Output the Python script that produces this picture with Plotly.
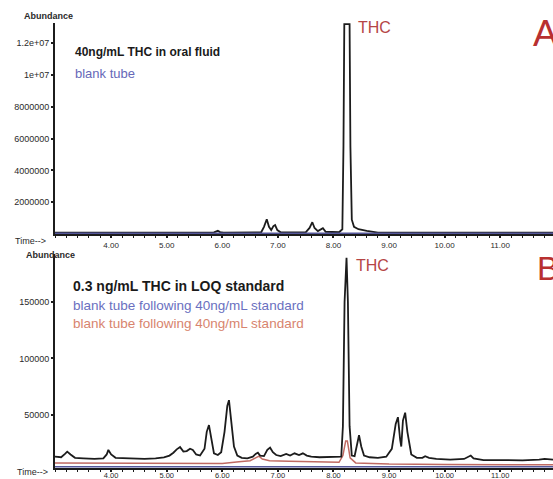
import plotly.graph_objects as go

# ---------------- data ----------------
# Panel A: 40 ng/mL THC in oral fluid (black) and blank tube (blue)
a_sample_t = [2.99, 4.50, 5.85, 5.92, 5.96, 6.02, 6.70, 6.75, 6.80, 6.84, 6.88, 6.92, 6.95, 6.99, 7.05,
              7.50, 7.57, 7.62, 7.66, 7.72, 7.77, 7.81, 7.86, 8.10, 8.16, 8.18, 8.195, 8.29, 8.305,
              8.33, 8.37, 8.45, 8.60, 8.80, 11.95]
a_sample_y = [90000, 90000, 100000, 200000, 120000, 90000, 110000, 450000, 930000, 450000, 250000, 500000,
              560000, 250000, 110000, 100000, 380000, 740000, 380000, 180000, 300000, 370000, 140000,
              110000, 300000, 5500000, 13200000, 13200000, 5500000, 900000, 450000, 300000, 200000, 90000, 90000]
a_blank_t = [2.99, 11.95]
a_blank_y = [30000, 30000]

# Panel B: 0.3 ng/mL THC LOQ standard (black), blank tubes (blue, red)
b_loq_t = [2.99, 3.10, 3.17, 3.21, 3.27, 3.35, 3.50, 3.70, 3.86, 3.92, 3.95, 4.00, 4.08, 4.30, 4.60, 4.80,
           4.95, 5.05, 5.12, 5.18, 5.24, 5.30, 5.36, 5.42, 5.47, 5.53, 5.60, 5.68, 5.72, 5.76, 5.80, 5.85,
           5.92, 5.98, 6.04, 6.09, 6.12, 6.16, 6.21, 6.27, 6.35, 6.45, 6.55, 6.60, 6.64, 6.68, 6.75, 6.81,
           6.86, 6.91, 6.97, 7.05, 7.15, 7.22, 7.30, 7.38, 7.45, 7.52, 7.60, 7.75, 7.95, 8.14, 8.17, 8.20,
           8.235, 8.26, 8.29, 8.33, 8.38, 8.43, 8.46, 8.50, 8.55, 8.65, 8.80, 8.95, 9.05, 9.12, 9.16, 9.20,
           9.22, 9.25, 9.29, 9.33, 9.40, 9.50, 9.60, 9.65, 9.72, 9.85, 10.10, 10.35, 10.43, 10.47, 10.52,
           10.70, 11.00, 11.40, 11.70, 11.80, 11.95]
b_loq_y = [13000, 12500, 15500, 17500, 15000, 12000, 11500, 11000, 11500, 15000, 19000, 15000, 12000,
           11500, 11000, 11500, 12500, 14000, 16500, 19500, 21500, 17500, 18000, 20000, 19000, 15000,
           14000, 20000, 35000, 41000, 30000, 16000, 14500, 17000, 35000, 58000, 63000, 45000, 22000,
           14000, 12000, 11500, 13000, 15500, 16500, 14000, 13500, 19000, 21000, 17000, 14500, 13500,
           15500, 14000, 16000, 14500, 16000, 14000, 13000, 12500, 12500, 13000, 40000, 150000, 189000,
           150000, 40000, 14000, 13500, 25000, 32000, 22000, 14000, 12500, 12000, 13000, 20000, 42000,
           48000, 28000, 22000, 45000, 52000, 35000, 15000, 12000, 12000, 13500, 12000, 11000, 10500,
           11000, 13500, 14000, 11500, 10000, 10000, 9800, 10500, 11000, 10500]
b_blank_blue_t = [2.99, 11.95]
b_blank_blue_y = [4200, 4200]
b_blank_red_t = [2.99, 4.00, 5.00, 6.00, 6.30, 6.50, 6.60, 6.66, 6.72, 6.85, 7.20, 7.80, 8.10, 8.17,
                 8.22, 8.25, 8.30, 8.40, 9.00, 10.00, 11.00, 11.95]
b_blank_red_y = [7500, 7200, 7000, 7000, 8500, 9500, 12000, 13500, 11000, 9500, 9000, 8500, 8000, 14000,
                 27000, 27000, 12000, 7500, 6500, 6000, 5800, 5800]

x_tick_vals = [4, 5, 6, 7, 8, 9, 10, 11]
x_tick_text = ["4.00", "5.00", "6.00", "7.00", "8.00", "9.00", "10.00", "11.00"]
a_y_tick_vals = [2e6, 4e6, 6e6, 8e6, 1e7, 1.2e7]
a_y_tick_text = ["2000000", "4000000", "6000000", "8000000", "1e+07", "1.2e+07"]
b_y_tick_vals = [50000, 100000, 150000]
b_y_tick_text = ["50000", "100000", "150000"]

# ---------------- figure ----------------
W, H = 553, 479
BLACK = "#1c1c1c"
BLUE = "#55579a"
RED = "#c06a62"
FONT = "Liberation Sans"

def px(pix):
    return pix / W

def py(pix):
    return 1 - pix / H

fig = go.Figure()
fig.add_trace(go.Scatter(x=a_sample_t, y=a_sample_y, mode="lines", line=dict(color=BLACK, width=1.8),
                         xaxis="x", yaxis="y"))
fig.add_trace(go.Scatter(x=a_blank_t, y=a_blank_y, mode="lines", line=dict(color=BLUE, width=1.8),
                         xaxis="x", yaxis="y"))
fig.add_trace(go.Scatter(x=b_blank_blue_t, y=b_blank_blue_y, mode="lines", line=dict(color=BLUE, width=1.5),
                         xaxis="x2", yaxis="y2"))
fig.add_trace(go.Scatter(x=b_blank_red_t, y=b_blank_red_y, mode="lines", line=dict(color=RED, width=1.5),
                         xaxis="x2", yaxis="y2"))
fig.add_trace(go.Scatter(x=b_loq_t, y=b_loq_y, mode="lines", line=dict(color=BLACK, width=1.8),
                         xaxis="x2", yaxis="y2"))

tickfont = dict(family=FONT, size=9, color="#2a2a2a")
xtickfont = dict(family=FONT, size=8, color="#2a2a2a")
xtickfont2 = dict(family=FONT, size=7.5, color="#2a2a2a")
xcommon = dict(range=[2.99, 11.95], domain=[px(55), 1.0], tickvals=x_tick_vals, ticktext=x_tick_text,
               showgrid=False, zeroline=False, showline=True, linecolor=BLACK, linewidth=2,
               ticks="outside", ticklen=2, tickwidth=1.5, tickcolor=BLACK,
               automargin=False,
               minor=dict(ticks="outside", ticklen=2, dtick=0.2, tickcolor=BLACK, tickwidth=1))
ycommon = dict(showgrid=False, zeroline=False, showline=True, linecolor=BLACK, linewidth=2,
               ticks="outside", ticklen=2, tickwidth=1.5, tickcolor=BLACK, tickfont=tickfont,
               automargin=False)

top_dom = [py(234), py(23)]
bot_dom = [py(468), py(254)]

fig.update_layout(
    width=W, height=H, margin=dict(l=0, r=0, t=0, b=0, pad=0),
    paper_bgcolor="white", plot_bgcolor="white", showlegend=False,
    xaxis=dict(anchor="y", tickfont=xtickfont, **xcommon),
    yaxis=dict(anchor="x", domain=top_dom, range=[0, 13.27e6], tickvals=a_y_tick_vals,
               ticktext=a_y_tick_text, **ycommon),
    xaxis2=dict(anchor="y2", ticklabelstandoff=-3, tickfont=xtickfont2, **xcommon),
    yaxis2=dict(anchor="x2", domain=bot_dom, range=[3000, 192400], tickvals=b_y_tick_vals,
                ticktext=b_y_tick_text, **ycommon),
)

def ann(text, xp, ypix, size, color, bold=False, xanchor="left"):
    fig.add_annotation(text=f"<b>{text}</b>" if bold else text, x=px(xp), y=py(ypix),
                       xref="paper", yref="paper", xanchor=xanchor, yanchor="middle",
                       showarrow=False, borderpad=0, font=dict(family=FONT, size=size, color=color))

ann("Abundance", 48, 16, 9, "#2a2a2a", bold=True, xanchor="center")
ann("Time-->", 30, 241, 9, "#2a2a2a", xanchor="center")
ann("Abundance", 50, 255, 9, "#2a2a2a", bold=True, xanchor="center")
ann("Time-->", 32, 472, 9, "#2a2a2a", xanchor="center")

ann("40ng/mL THC in oral fluid", 74, 52, 12, "#1a1a1a", bold=True)
ann("blank tube", 74, 73, 13, "#6668b8")
ann("THC", 357, 28, 16, "#b54545")
ann("A", 532, 33, 37, "#b83030")

ann("0.3 ng/mL THC in LOQ standard", 72, 286, 14, "#1a1a1a", bold=True)
ann("blank tube following 40ng/mL standard", 72, 305, 13.5, "#6a70c0")
ann("blank tube following 40ng/mL standard", 72, 323, 13.5, "#d8846e")
ann("THC", 355, 265, 16, "#b54545")
ann("B", 536, 268, 33, "#b83030")

# remove the default page margin so the figure fills the window exactly; hide the modebar
fig.write_html("out.html", config={"displayModeBar": False},
               post_script="document.body.style.margin='0';document.body.style.overflow='hidden';")
